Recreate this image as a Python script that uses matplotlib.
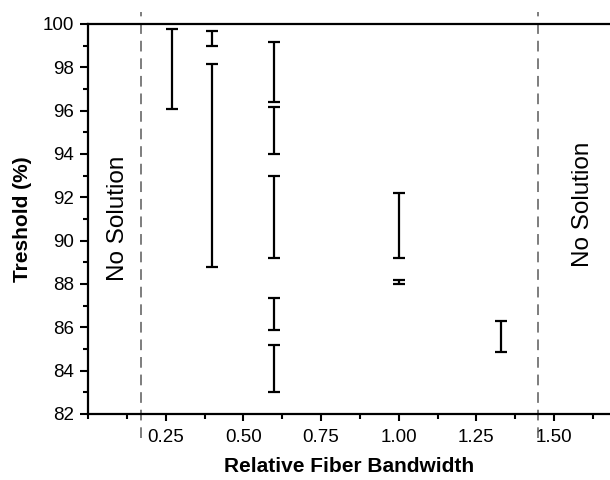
import matplotlib
matplotlib.use("Agg")
import matplotlib.pyplot as plt
from matplotlib.ticker import MultipleLocator

plt.rcParams['font.family'] = ['Liberation Sans', 'DejaVu Sans']

# threshold ranges (low, high) at each relative fiber bandwidth
bandwidth = [0.27, 0.40, 0.40, 0.60, 0.60, 0.60, 0.60, 0.60, 1.00, 1.00, 1.33]
low = [96.08, 98.97, 88.77, 96.42, 93.99, 89.19, 85.89, 83.00, 89.20, 87.99, 84.86]
high = [99.77, 99.68, 98.14, 99.15, 96.19, 93.00, 87.37, 85.19, 92.19, 88.19, 86.31]

# bandwidth limits beyond which there is no solution
limits = [0.171, 1.448]
limit_span = [80.9, 100.55]
note_x = [0.098, 1.593]
note_y = [91.05, 91.7]

fig = plt.figure(figsize=(6.1, 4.8), dpi=100)
ax = fig.add_axes([0.1443, 0.1375, 0.8557, 0.8125])

mid = [(lo + hi) / 2 for lo, hi in zip(low, high)]
half = [(hi - lo) / 2 for lo, hi in zip(low, high)]
ax.errorbar(bandwidth, mid, yerr=half, fmt='none', ecolor='black',
            elinewidth=1.6, capsize=4.6, capthick=1.6)

for x in limits:
    ax.plot([x, x], limit_span, color='#5a5a5a', lw=1.1,
            dashes=(7, 4.5), clip_on=False)

for x, y in zip(note_x, note_y):
    ax.text(x, y, 'No Solution', rotation=90, ha='center', va='center',
            fontsize=17.5)

ax.set_xlim(0, 1.68)
ax.set_ylim(82, 100)
ax.xaxis.set_minor_locator(MultipleLocator(0.125))
ax.yaxis.set_major_locator(MultipleLocator(2))
ax.yaxis.set_minor_locator(MultipleLocator(1))
ax.set_xticks([0.25, 0.5, 0.75, 1.0, 1.25, 1.5])
ax.set_xticklabels(['0.25', '0.50', '0.75', '1.00', '1.25', '1.50'])

ax.spines['right'].set_visible(False)
for s in ['left', 'bottom', 'top']:
    ax.spines[s].set_linewidth(1.6)
ax.tick_params(which='major', direction='out', length=6, width=1.5,
               labelsize=13.5, top=False, right=False)
ax.tick_params(which='minor', direction='out', length=3.5, width=1.5,
               top=False, right=False)
ax.tick_params(axis='x', which='major', length=5, pad=6)
ax.tick_params(axis='y', which='major', pad=4)

ax.set_xlabel('Relative Fiber Bandwidth', fontsize=15, fontweight='bold',
              labelpad=8)
ax.set_ylabel('Treshold (%)', fontsize=15, fontweight='bold', labelpad=8)

fig.savefig('out.png', dpi=100)
